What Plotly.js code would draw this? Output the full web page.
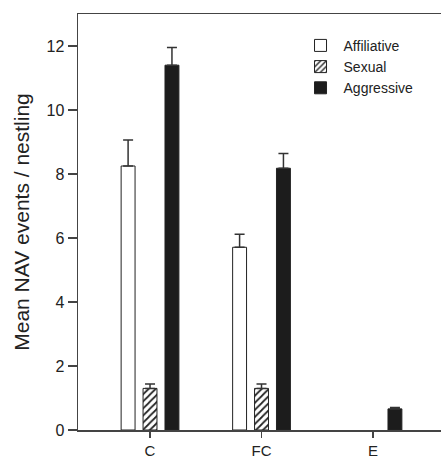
<!DOCTYPE html>
<html>
<head>
<meta charset="utf-8">
<script src="https://cdn.plot.ly/plotly-3.0.1.min.js"></script>
<style>html,body{margin:0;padding:0;background:#fff;overflow:hidden;}#chart{width:441px;height:459px;overflow:hidden;}</style>
</head>
<body>
<div id="chart"></div>
<script>
const categories = ['C', 'FC', 'E'];
const seriesNames = ['Affiliative', 'Sexual', 'Aggressive'];
const affiliative = [8.25, 5.71, 0];
const affiliativeErr = [0.81, 0.41, null];
const sexual = [1.30, 1.30, 0];
const sexualErr = [0.14, 0.14, null];
const aggressive = [11.4, 8.18, 0.66];
const aggressiveErr = [0.55, 0.46, 0.04];
const yTicks = [0, 2, 4, 6, 8, 10, 12];

const ink = '#222';
const errStyle = (arr) => ({type: 'data', symmetric: false,
  array: arr.map(v => v === null ? NaN : v), arrayminus: arr.map(v => v === null ? NaN : 0),
  color: '#333', thickness: 1.5, width: 5});
const outline = (vals) => ({color: ink, width: vals.map(v => v > 0 ? 1 : 0)});

const traces = [
  {type: 'bar', name: seriesNames[0], x: categories, y: affiliative,
   marker: {color: '#fff', line: outline(affiliative)}, error_y: errStyle(affiliativeErr)},
  {type: 'bar', name: seriesNames[1], x: categories, y: sexual,
   marker: {color: '#fff', line: outline(sexual),
     pattern: {shape: '/', fgcolor: ink, bgcolor: '#fff', size: 5, solidity: 0.35}},
   error_y: errStyle(sexualErr)},
  {type: 'bar', name: seriesNames[2], x: categories, y: aggressive,
   marker: {color: '#1c1c1c', line: outline(aggressive)}, error_y: errStyle(aggressiveErr)}
];

const layout = {
  width: 470, height: 459,
  margin: {l: 78, r: 0, t: 14, b: 29, pad: 0},
  paper_bgcolor: '#fff', plot_bgcolor: '#fff',
  font: {family: 'Liberation Sans, Arial, sans-serif', color: '#222', size: 15},
  barmode: 'group', bargap: 0.41, bargroupgap: 0.365,
  showlegend: true,
  legend: {x: 0.56, y: 0.962, xanchor: 'left', yanchor: 'top', bgcolor: 'rgba(0,0,0,0)',
    font: {size: 14, color: '#222'}, itemwidth: 36, tracegroupgap: 0},
  xaxis: {type: 'category', range: [-0.646, 2.87], showline: true, linecolor: '#444', linewidth: 1.5,
    mirror: true, ticks: 'outside', ticklen: 6, tickcolor: '#444', tickwidth: 1.5,
    tickfont: {size: 15, color: '#222'}, showgrid: false, zeroline: false, fixedrange: true},
  yaxis: {range: [0, 13], tickvals: yTicks, showline: true, linecolor: '#444', linewidth: 1.5,
    ticks: 'outside', ticklen: 9, tickcolor: '#444', tickwidth: 1.5,
    tickfont: {size: 16, color: '#222'}, showgrid: false, zeroline: false,
    title: {text: 'Mean NAV events / nestling', font: {size: 21, color: '#222'}, standoff: 11}}
};

Plotly.newPlot('chart', traces, layout, {displayModeBar: false, staticPlot: true});
</script>
</body>
</html>
